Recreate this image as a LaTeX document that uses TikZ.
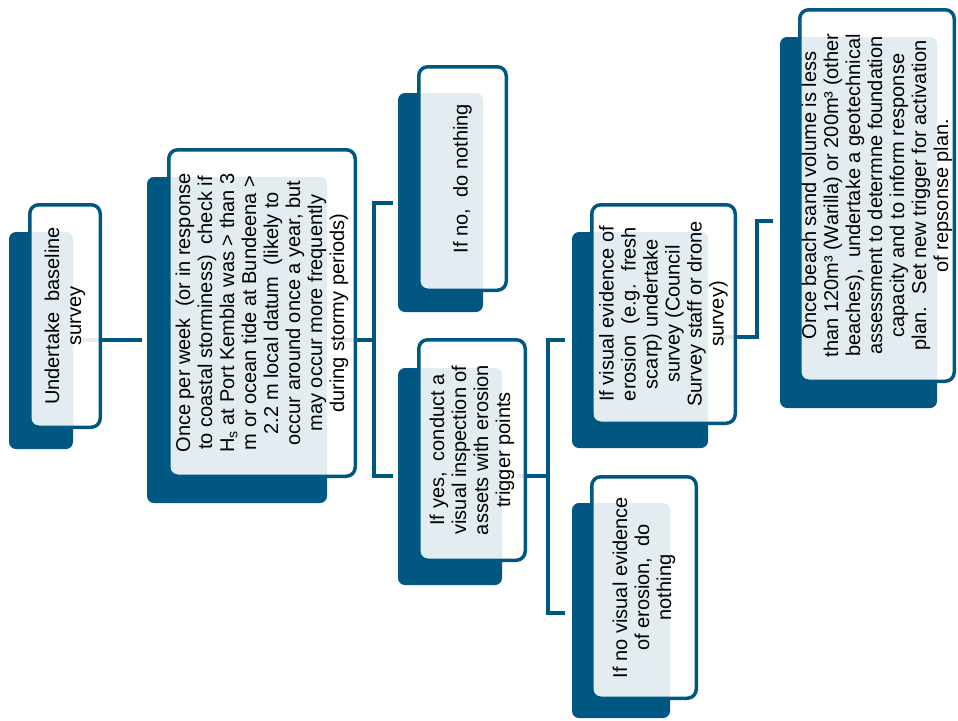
\documentclass[tikz,border=0pt]{standalone}
\usepackage{fontspec}
\setmainfont{Liberation Sans}
\usetikzlibrary{calc}
\definecolor{dblue}{RGB}{0,88,130}
\tikzset{
  shadowbox/.style={fill=dblue, rounded corners=7pt},
  whitebox/.style={draw=dblue, line width=3.5pt, fill=white, fill opacity=0.89, rounded corners=9pt, inner sep=0pt, outer sep=0.5\pgflinewidth},
  txt/.style={rotate=90, align=center, inner sep=0pt, text=black, font=\fontsize{20}{22}\selectfont},
  conn/.style={draw=dblue, line width=3.5pt}
}
\begin{document}
\begin{tikzpicture}[x=1pt,y=-1pt]
\useasboundingbox (0,0) rectangle (958,720);
% shadows
\fill[shadowbox] (9,232) rectangle (73,449);
\fill[shadowbox] (147,177) rectangle (327,503);
\fill[shadowbox] (398,93) rectangle (483,312);
\fill[shadowbox] (398,368) rectangle (502,585);
\fill[shadowbox] (572,232) rectangle (708,448);
\fill[shadowbox] (572,503) rectangle (670,718);
\fill[shadowbox] (780,37) rectangle (937,408);
% box coordinates (node placement, drawn later)
\path (65,316) coordinate (p1);
\path (262,313) coordinate (p2);
\path (462.5,178.5) coordinate (p3);
\path (472,450) coordinate (p4);
\path (663.5,314) coordinate (p5);
\path (644,587.5) coordinate (p6);
\path (877,195.5) coordinate (p7);
% boxes as empty nodes (invisible first pass to get anchors)
\node[whitebox, draw=none, fill=none, minimum width=70.5pt, minimum height=222.5pt] (n1) at (p1) {};
\node[whitebox, draw=none, fill=none, minimum width=186.5pt, minimum height=326.5pt] (n2) at (p2) {};
\node[whitebox, draw=none, fill=none, minimum width=87.5pt, minimum height=223.5pt] (n3) at (p3) {};
\node[whitebox, draw=none, fill=none, minimum width=106.5pt, minimum height=220.5pt] (n4) at (p4) {};
\node[whitebox, draw=none, fill=none, minimum width=143.5pt, minimum height=218.5pt] (n5) at (p5) {};
\node[whitebox, draw=none, fill=none, minimum width=104.5pt, minimum height=221.5pt] (n6) at (p6) {};
\node[whitebox, draw=none, fill=none, minimum width=154.5pt, minimum height=371.5pt] (n7) at (p7) {};
% connector coordinates
\coordinate (j1) at (142,340);
\coordinate (k2) at (374,340);
\coordinate (b2t) at (393,203);
\coordinate (b2b) at (393,476);
\coordinate (k3) at (548,476);
\coordinate (b3t) at (565,340);
\coordinate (b3b) at (565,613);
\coordinate (k4) at (757,337);
\coordinate (e4) at (773,221);
% connectors
\draw[conn] ($(n1.east)+(-19,24)$) -- (j1);
\draw[conn] ($(n2.east)+(-20,27)$) -- (k2);
\draw[conn] (b2t) -- ++(-19,0) |- (b2b);
\draw[conn] ($(n4.east)+(-10,26)$) -- (k3);
\draw[conn] (b3t) -- ++(-17,0) |- (b3b);
\draw[conn] ($(n5.east)+(-14,23)$) -- (k4) |- (e4);
% white boxes
\foreach \n/\w/\h in {1/70.5/222.5, 2/186.5/326.5, 3/87.5/223.5, 4/106.5/220.5, 5/143.5/218.5, 6/104.5/221.5, 7/154.5/371.5}{
  \node[whitebox, minimum width=\w pt, minimum height=\h pt] at (p\n) {};
}
% texts
\node[txt] (t1) at (n1.center) {Undertake~ baseline\\survey};
\node[txt] (t2) at (n2.center) {Once per week~ (or in response\\to coastal storminess)~ check if\\H\textsubscript{s} at Port Kembla was > than 3\\m or ocean tide at Bundeena >\\2.2 m local datum~ (likely to\\occur around once a year, but\\may occur more frequently\\during stormy periods)};
\node[txt] (t3) at (n3.center) {If no,~ do nothing};
\node[txt] (t4) at (n4.center) {If yes,~ conduct a\\visual inspection of\\assets with erosion\\trigger points};
\node[txt] (t5) at (n5.center) {If visual evidence of\\erosion~ (e.g.~ fresh\\scarp) undertake\\survey (Council\\Survey staff or drone\\survey)};
\node[txt] (t6) at (n6.center) {If no visual evidence\\of erosion,~ do\\nothing};
\node[txt] (t7) at (n7.center) {Once beach sand volume is less\\than 120m³ (Warilla) or 200m³ (other\\beaches),~ undertake a geotechnical\\assessment to determne foundation\\capacity and to inform response\\plan.~ Set new trigger for activation\\of repsonse plan.};
\end{tikzpicture}
\end{document}
